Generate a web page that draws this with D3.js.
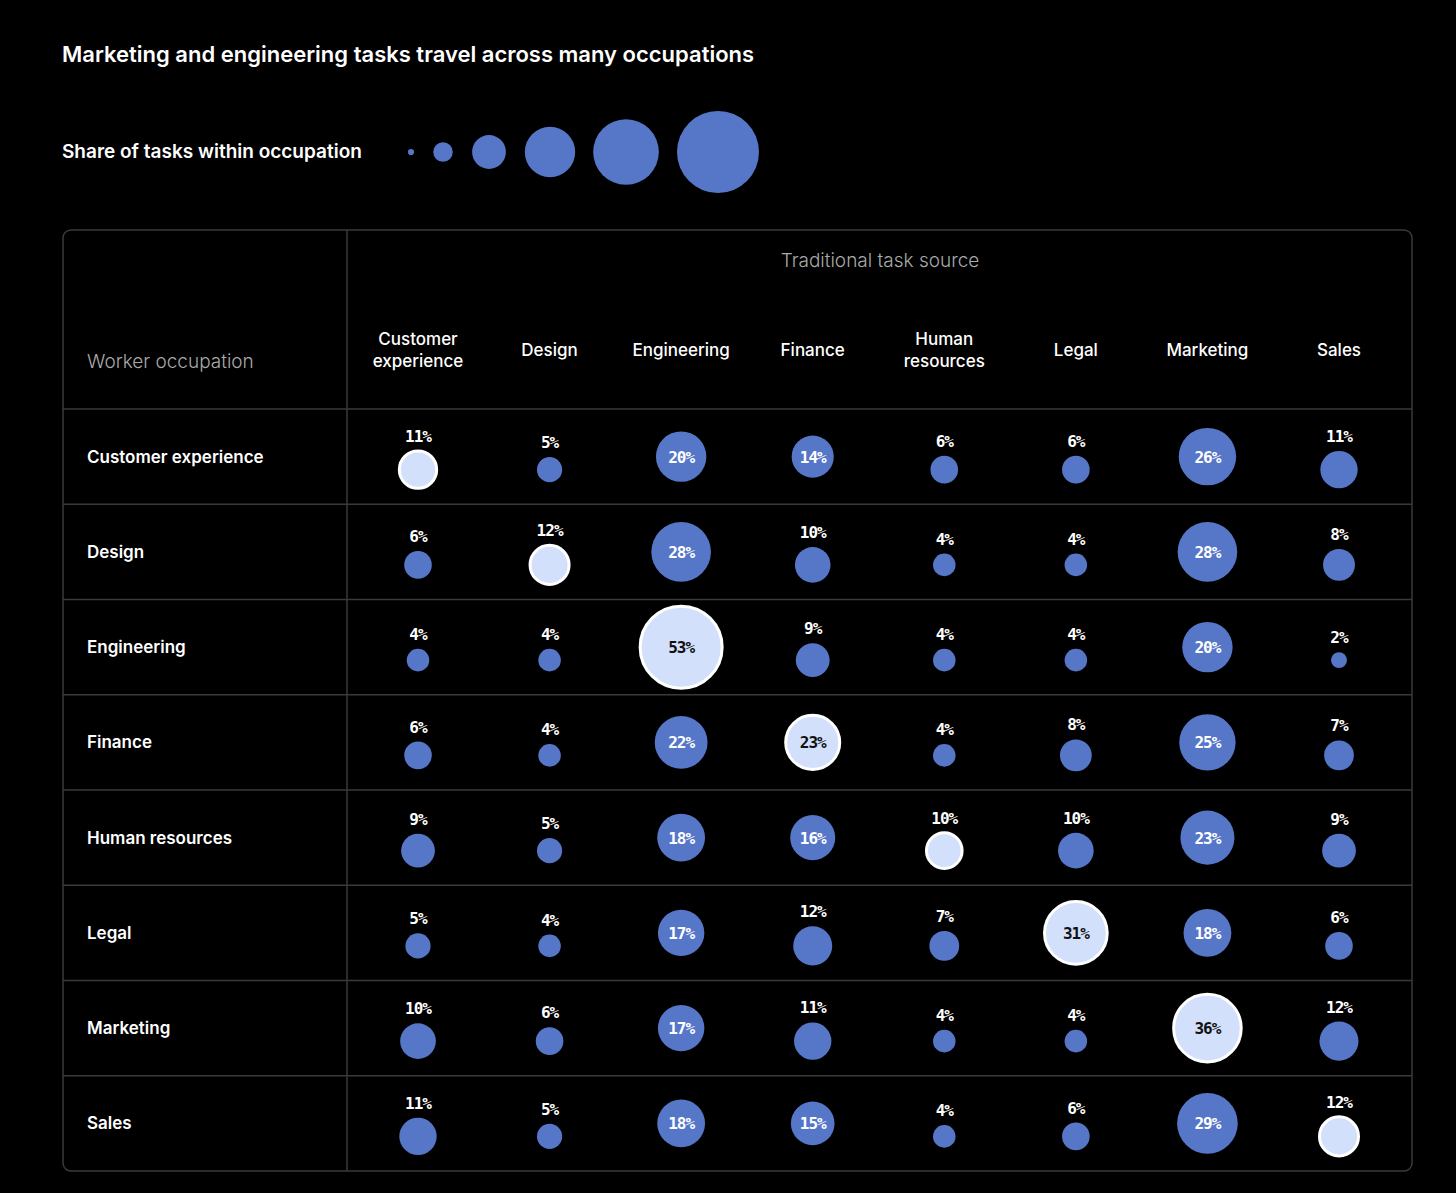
<!DOCTYPE html>
<html><head><meta charset="utf-8">
<script src="https://cdn.jsdelivr.net/npm/d3@7"></script>
<style>body{margin:0;background:#000;}svg{display:block;font-family:Inter,"Noto Sans",sans-serif;}</style>
</head><body>
<script>
var occupations = ["Customer experience","Design","Engineering","Finance","Human resources","Legal","Marketing","Sales"];
var sources = ["Customer\nexperience","Design","Engineering","Finance","Human\nresources","Legal","Marketing","Sales"];
var cx = [11,5,20,14,6,6,26,11];
var design = [6,12,28,10,4,4,28,8];
var engineering = [4,4,53,9,4,4,20,2];
var finance = [6,4,22,23,4,8,25,7];
var hr = [9,5,18,16,10,10,23,9];
var legal = [5,4,17,12,7,31,18,6];
var marketing = [10,6,17,11,4,4,36,12];
var sales = [11,5,18,15,4,6,29,12];
var rows = [cx,design,engineering,finance,hr,legal,marketing,sales];
var legendValues = [0.3,3,9,20,34,53];
var legendX = [411,443,489,550,626,718];

var width = 1456, height = 1193;
var svg = d3.select("body").append("svg").attr("width",width).attr("height",height);

var r = d3.scaleSqrt().domain([0,53]).range([0,41]);
var x = d3.scalePoint().domain(d3.range(8)).range([418,1339]);
var y = d3.scaleBand().domain(d3.range(8)).range([409,1171]);
var blue = "#5677c8", light = "#d3e0fb";

svg.append("text").attr("x",62).attr("y",62).attr("fill","#fff")
  .attr("font-size",22).attr("font-weight",600)
  .text("Marketing and engineering tasks travel across many occupations");

// legend
svg.append("text").attr("x",62).attr("y",158).attr("fill","#fff")
  .attr("font-size",19).attr("font-weight",600).text("Share of tasks within occupation");
svg.selectAll(".leg").data(legendValues).enter().append("circle")
  .attr("cx",(d,i)=>legendX[i]).attr("cy",152).attr("r",d=>Math.max(2.5,r(d))).attr("fill",blue);

// table frame
svg.append("rect").attr("x",63).attr("y",230).attr("width",1349).attr("height",941)
  .attr("rx",8).attr("fill","none").attr("stroke","#3a3a3a").attr("stroke-width",1.5);
svg.append("line").attr("x1",347).attr("x2",347).attr("y1",230).attr("y2",1171).attr("stroke","#3a3a3a").attr("stroke-width",1.5);
svg.selectAll(".hl").data(d3.range(8)).enter().append("line")
  .attr("x1",63).attr("x2",1412).attr("y1",d=>y(d)).attr("y2",d=>y(d))
  .attr("stroke","#3a3a3a").attr("stroke-width",1.5);

svg.append("text").attr("x",880).attr("y",267).attr("text-anchor","middle")
  .attr("fill","#aaa").attr("font-size",19).attr("font-weight",300).text("Traditional task source");
svg.append("text").attr("x",87).attr("y",368).attr("fill","#aaa")
  .attr("font-size",19).attr("font-weight",300).text("Worker occupation");

sources.forEach(function(s,i){
  var lines = s.split("\n");
  var t = svg.append("text").attr("x",x(i)).attr("text-anchor","middle")
    .attr("fill","#fff").attr("font-size",17).attr("font-weight",500)
    .attr("y", lines.length>1 ? 345 : 356);
  lines.forEach(function(l,j){ t.append("tspan").attr("x",x(i)).attr("dy",j?22:0).text(l); });
});

svg.selectAll(".rl").data(occupations).enter().append("text")
  .attr("x",87).attr("y",(d,i)=>y(i)+y.bandwidth()/2+6)
  .attr("fill","#fff").attr("font-size",17).attr("font-weight",600).text(d=>d);

rows.forEach(function(vals,ri){
  var cy = y(ri)+y.bandwidth()/2;
  vals.forEach(function(v,ci){
    var rad = r(v), diag = ri===ci, inside = v>=14;
    var g = svg.append("g");
    var ccy = inside ? cy : cy+13;
    g.append("circle").attr("cx",x(ci)).attr("cy",ccy).attr("r",rad)
      .attr("fill",diag?light:blue).attr("stroke",diag?"#fff":"none").attr("stroke-width",3);
    g.append("text").attr("x",x(ci)).attr("y",inside?cy+6:ccy-rad-9)
      .attr("text-anchor","middle").attr("font-family","'DejaVu Sans Mono',monospace")
      .attr("font-weight",700).attr("font-size",16).attr("letter-spacing",-1)
      .attr("fill",diag&&inside?"#111":"#fff").text(v+"%");
  });
});
</script>
</body></html>
